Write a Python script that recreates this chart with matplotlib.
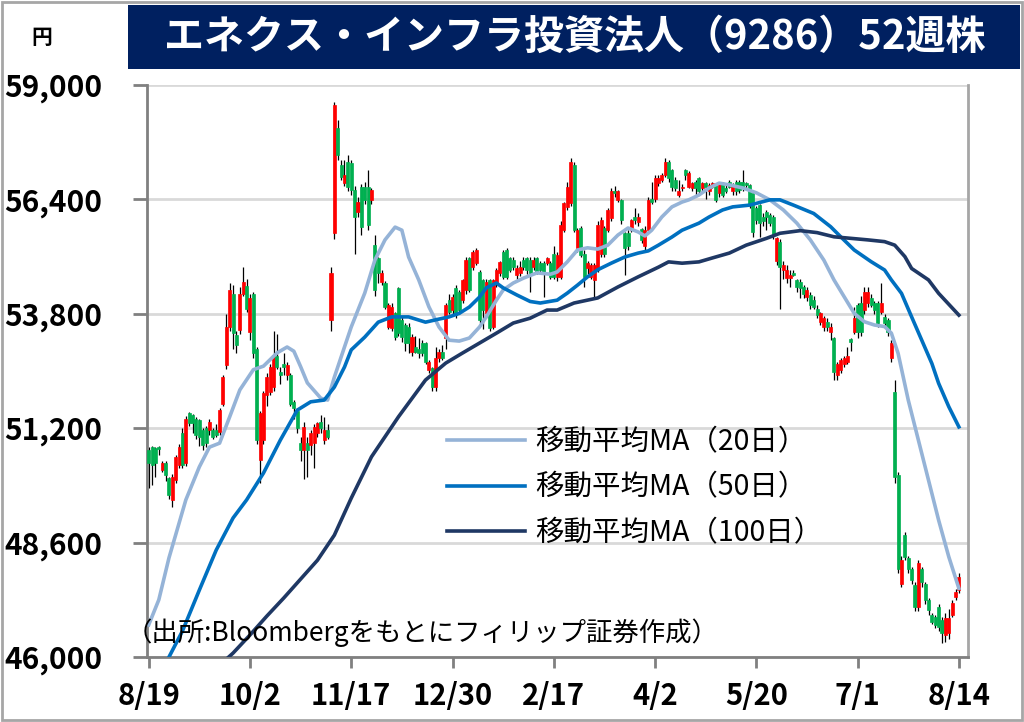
import matplotlib
matplotlib.use("Agg")
import matplotlib.pyplot as plt
from matplotlib.patches import Rectangle
import numpy as np

plt.rcParams['font.family'] = ['Noto Sans CJK JP', 'DejaVu Sans']

# ── text ────────────────────────────────────────────────────────────────
TITLE = "エネクス・インフラ投資法人（9286）52週株"
SOURCE = "（出所:Bloombergをもとにフィリップ証券作成）"
UNIT = "円"

date_labels = ["8/19", "10/2", "11/17", "12/30", "2/17", "4/2", "5/20", "7/1", "8/14"]
date_pos = [0, 30, 60, 90, 120, 150, 180, 210, 240]
price_ticks = [46000, 48600, 51200, 53800, 56400, 59000]

# ── daily candles (yen) ─────────────────────────────────────────────────
opens = [
    50700, 50780, 50740, 50780, 50260, 50400, 50060, 49570, 50020, 50360,
    51080, 50400, 51540, 51500, 51420, 51390, 51160, 51200, 51160, 51160,
    51160, 51120, 51760, 52640, 53510, 54260, 53320, 53430, 54260, 54430,
    53390, 54260, 53010, 50480, 50930, 51950, 52030, 52140, 52830, 52480,
    52670, 52410, 52410, 51800, 51600, 50860, 50700, 50860, 50820, 50860,
    51080, 51350, 50930, 51160, 53660, 55630, 58020, 57180, 56770, 57260,
    57220, 56610, 56120, 56690, 56690, 56690, 56390, 55360, 55060, 54530,
    54490, 53510, 53470, 53810, 54380, 53660, 53550, 53510, 52940, 53050,
    53010, 53130, 53130, 52520, 52560, 52140, 52790, 52940, 53240, 54110,
    53890, 54380, 54300, 54110, 54340, 55060, 54870, 54950, 54760, 54570,
    53810, 54570, 53510, 54490, 54720, 55210, 55250, 55060, 55020, 54680,
    54720, 55020, 55060, 55020, 54870, 55060, 54950, 54950, 54950, 54950,
    55170, 54640, 54640, 55700, 56230, 56310, 57180, 55290, 55740, 55170,
    54830, 54640, 54570, 54800, 55170, 55740, 55700, 55970, 56590, 56390,
    56390, 55630, 55630, 55700, 56010, 55890, 55720, 55330, 55700, 56420,
    56420, 56770, 56840, 56950, 57260, 57070, 56840, 56500, 56650, 57070,
    56690, 56650, 56800, 56880, 56650, 56770, 56580, 56690, 56730, 56540,
    56770, 56650, 56800, 56580, 56800, 56800, 56800, 56770, 56730, 56540,
    56200, 56270, 56000, 56120, 56050, 56010, 54990, 55440, 54800, 54610,
    54610, 54720, 54570, 54530, 54400, 54190, 54230, 54110, 53920, 53620,
    53510, 53620, 53390, 53240, 52410, 52520, 52670, 52710, 53220, 53390,
    54000, 54040, 53890, 54040, 54150, 54040, 54040, 53850, 53730, 53660,
    52790, 52030, 50140, 47670, 48770, 48240, 48010, 47640, 47140, 48000,
    47670, 47290, 46950, 46920, 47140, 46840, 46500, 46540, 46950, 47370,
    47520,
]
highs = [
    50780, 50800, 50780, 50800, 50450, 50450, 50100, 50150, 50600, 50850,
    51200, 51480, 51560, 51520, 51450, 51400, 51200, 51250, 51400, 51200,
    51300, 51650, 52400, 53800, 54500, 54450, 53400, 54400, 54870, 54600,
    54250, 54300, 53050, 51600, 52050, 52450, 52650, 53400, 53350, 52600,
    52900, 52700, 52450, 51850, 51650, 51000, 51350, 51000, 51150, 51300,
    51350, 51500, 51450, 51300, 54870, 58620, 58200, 57300, 57300, 57400,
    57300, 56700, 56450, 56750, 56800, 57070, 56650, 55600, 55100, 54800,
    54550, 54050, 54050, 53850, 54400, 53750, 53600, 53600, 53350, 53300,
    53250, 53200, 53150, 52750, 52600, 53050, 53000, 53100, 54050, 54250,
    54250, 54450, 54350, 54600, 55100, 55100, 55250, 55300, 54800, 54600,
    54600, 54600, 54600, 54850, 55000, 55250, 55300, 55100, 55100, 54900,
    55000, 55100, 55100, 55100, 55100, 55100, 55000, 55000, 55100, 55000,
    55330, 55200, 55900, 56350, 56800, 57340, 57250, 55750, 55800, 55250,
    55000, 54950, 54950, 55900, 56000, 55800, 56200, 56650, 56700, 56620,
    56420, 55650, 55700, 55950, 56200, 56100, 55750, 55800, 56450, 56800,
    56950, 56950, 57000, 57340, 57300, 57100, 56900, 56850, 56750, 57100,
    57050, 56800, 56850, 56900, 56800, 56800, 56780, 56800, 56750, 56800,
    56800, 56750, 56850, 56780, 56850, 56850, 57070, 56800, 56750, 56600,
    56250, 56300, 56100, 56150, 56100, 56050, 55550, 55500, 55000, 54900,
    54800, 54800, 54600, 54600, 54450, 54400, 54300, 54200, 54000, 53850,
    53750, 53700, 53600, 53280, 52700, 52800, 52850, 53050, 53250, 53950,
    54050, 54200, 54400, 54400, 54250, 54100, 54100, 54500, 53800, 53700,
    53200, 52300, 50200, 48300, 48850, 48300, 48050, 47700, 48200, 48050,
    47700, 47350, 47000, 46950, 47200, 46900, 47000, 47100, 47300, 47550,
    47900,
]
lows = [
    49830, 49900, 50100, 50600, 50200, 50000, 49600, 49400, 49950, 50300,
    50300, 50350, 51250, 51100, 50950, 50800, 50700, 50780, 51050, 50950,
    51000, 51050, 51700, 52550, 53400, 53000, 52900, 53350, 54200, 53850,
    53200, 52800, 50850, 49950, 50850, 51700, 51950, 52050, 52550, 52200,
    52400, 52300, 51700, 51400, 51100, 50450, 50050, 50100, 50600, 50300,
    51000, 51100, 50850, 50950, 53400, 55500, 57300, 56850, 56700, 56600,
    56500, 55170, 56000, 55600, 56300, 55700, 56300, 54200, 54500, 54450,
    53900, 53450, 53400, 53200, 53300, 53150, 52950, 52900, 52850, 52900,
    52800, 52850, 52650, 52450, 52050, 52050, 52700, 52750, 53000, 53800,
    53800, 53700, 53800, 54050, 54250, 54300, 54800, 54900, 53600, 53450,
    53700, 53400, 53450, 54400, 54650, 54600, 54600, 54750, 54800, 54600,
    54650, 54800, 54700, 54300, 54800, 54700, 54750, 54190, 54900, 54600,
    54600, 54550, 54600, 55650, 56150, 56250, 55650, 55200, 55100, 54400,
    54700, 54600, 54190, 54750, 55100, 55100, 55650, 55900, 56450, 56350,
    55850, 54680, 55250, 55650, 55850, 55800, 55400, 55250, 55650, 56300,
    56350, 56700, 56800, 56900, 56800, 56600, 56600, 56450, 56600, 56850,
    56650, 56600, 56450, 56500, 56600, 56400, 56500, 56650, 56350, 56450,
    56450, 56550, 56650, 56500, 56500, 56550, 56600, 56650, 56200, 55550,
    55850, 55550, 55800, 55700, 55800, 55500, 54900, 53920, 54600, 54500,
    54400, 54650, 54300, 54150, 54150, 54100, 53900, 53900, 53700, 53550,
    53400, 53400, 53200, 52300, 52300, 52450, 52600, 52650, 52950, 53350,
    53250, 53300, 53800, 53950, 53950, 53800, 53500, 53800, 53500, 53300,
    52700, 49950, 47900, 47600, 48200, 47900, 47650, 47050, 47050, 47600,
    47200, 46950, 46750, 46650, 46600, 46310, 46350, 46400, 46900, 47300,
    47450,
]
closes = [
    50400, 50360, 50400, 50720, 50400, 50140, 49680, 50100, 50550, 50780,
    50360, 51420, 51310, 51310, 51040, 51010, 50820, 50860, 51350, 51010,
    51040, 51610, 52370, 53510, 54340, 53360, 53090, 54260, 54530, 53920,
    54150, 52900, 50930, 51540, 51990, 52370, 52600, 52860, 52600, 52410,
    52600, 52640, 51760, 51650, 51200, 50700, 51230, 50700, 51080, 51230,
    51310, 51200, 51160, 51010, 54720, 58550, 57410, 56920, 56950, 56690,
    56610, 56010, 56350, 55780, 56390, 55820, 56610, 54340, 54720, 54720,
    53960, 54000, 53960, 53280, 53360, 53280, 53130, 53130, 53280, 52940,
    52900, 52900, 52710, 52710, 52140, 52790, 52940, 52790, 54000, 53850,
    54190, 53770, 53890, 54570, 55020, 54340, 55210, 55250, 53660, 53890,
    54530, 53470, 54570, 54800, 54980, 54640, 54640, 54800, 54870, 54830,
    54870, 54870, 54800, 54720, 55020, 54760, 54800, 54720, 55060, 54640,
    54640, 55140, 55820, 56310, 56690, 57260, 55700, 55700, 55140, 54640,
    54950, 54910, 54910, 55820, 55930, 55170, 56160, 56580, 56540, 56580,
    55930, 55290, 55330, 55930, 55930, 56010, 55480, 55700, 56390, 56350,
    56880, 56880, 56950, 57260, 56880, 56690, 56650, 56580, 56690, 56950,
    56990, 56770, 56650, 56580, 56770, 56690, 56730, 56770, 56390, 56770,
    56500, 56600, 56690, 56730, 56580, 56610, 56650, 56730, 56270, 55670,
    55930, 55860, 55900, 56010, 55860, 55590, 55520, 54870, 54910, 54800,
    54680, 54680, 54420, 54380, 54250, 54340, 54000, 53960, 53770, 53810,
    53700, 53510, 53510, 52480, 52670, 52750, 52790, 52830, 53170, 53700,
    53390, 53390, 54300, 54300, 54000, 53890, 53580, 54040, 53580, 53390,
    53130, 50100, 48010, 48200, 48280, 48010, 47750, 47140, 48130, 47700,
    47290, 47070, 46800, 46730, 46690, 46540, 46880, 46880, 47220, 47480,
    47820,
]

# ── moving averages read at points along each line (day index, yen) ─────
ma20_x = [0, 3, 6, 11, 15, 18, 21, 24, 27, 31, 34, 38, 41, 43, 45, 47, 51, 53, 55, 58,
          60, 64, 67, 70, 73, 75, 77, 80, 83, 86, 89, 92, 95, 98, 100, 103, 105, 108, 111, 115,
          119, 121, 124, 127, 130, 133, 136, 139, 142, 145, 147, 149, 152, 155, 158, 160, 163, 166, 169, 172,
          176, 180, 184, 188, 192, 196, 200, 203, 206, 209, 212, 215, 218, 220, 222, 225, 228, 231, 234, 237, 240]
ma20_y = [46730, 47300, 48250, 49570, 50320, 50770, 50860, 51460, 52070, 52530, 52610, 52910, 53045, 52950, 52600, 52230, 51880, 51840, 52360, 53045,
          53500, 54270, 55020, 55480, 55770, 55700, 55090, 54570, 53960, 53500, 53200, 53180, 53250, 53500, 53730, 54110, 54340, 54500, 54610, 54730,
          54700, 54750, 54980, 55250, 55300, 55270, 55360, 55590, 55750, 55660, 55570, 55700, 56000, 56230, 56340, 56390, 56500, 56660, 56770, 56730,
          56660, 56550, 56390, 56160, 55860, 55480, 55020, 54570, 54190, 53810, 53620, 53545, 53510, 53360, 52900, 51840, 50930, 50020, 49110, 48280, 47560]

ma50_x = [5, 10, 15, 20, 25, 29, 34, 39, 44, 48, 52, 55, 58, 60, 64, 68, 72, 77, 82, 86,
          89, 92, 95, 98, 100, 103, 105, 109, 113, 116, 121, 124, 127, 130, 133, 137, 141, 145, 148, 151,
          155, 158, 163, 166, 170, 173, 178, 184, 187, 191, 197, 202, 205, 209, 214, 218, 220, 223, 226, 229,
          232, 234, 237, 240]
ma50_y = [45850, 46590, 47520, 48430, 49160, 49570, 50180, 50930, 51610, 51800, 51840, 52135, 52590, 52980, 53270, 53610, 53730, 53730, 53610, 53680,
          53730, 53810, 53955, 54180, 54390, 54500, 54390, 54230, 54080, 54045, 54110, 54270, 54450, 54640, 54800, 54950, 55090, 55180, 55230, 55360,
          55545, 55700, 55860, 56000, 56160, 56230, 56270, 56390, 56390, 56270, 56080, 55780, 55550, 55250, 54985, 54795, 54570, 54265, 53730, 53200,
          52670, 52220, 51690, 51230]

ma100_x = [23, 25, 30, 35, 40, 45, 50, 55, 60, 66, 74, 82, 88, 93, 98, 103, 108, 113, 118, 121,
           126, 133, 139, 145, 151, 154, 158, 163, 167, 172, 177, 183, 187, 193, 198, 203, 208, 213, 218, 221,
           224, 226, 231, 234, 240]
ma100_y = [45950, 46090, 46500, 46930, 47340, 47770, 48200, 48770, 49610, 50550, 51460, 52295, 52680, 52910, 53135, 53360, 53590, 53700, 53885, 53885,
           54045, 54160, 54410, 54640, 54860, 54980, 54950, 54980, 55070, 55180, 55360, 55515, 55630, 55690, 55645, 55550, 55515, 55480, 55440, 55360,
           55100, 54830, 54570, 54265, 53770]

# ── figure ──────────────────────────────────────────────────────────────
fig = plt.figure(figsize=(10.24, 7.22), dpi=100)
ax = fig.add_axes([147 / 1024, 1 - 657 / 722, 821 / 1024, 572 / 722])

fig.patches.append(Rectangle((0.002, 0.003), 0.996, 0.994, transform=fig.transFigure,
                             fill=False, edgecolor='#A6A6A6', lw=2))
fig.patches.append(Rectangle((128 / 1024, 1 - 69 / 722), 892 / 1024, 64 / 722,
                             transform=fig.transFigure, facecolor='#002060', edgecolor='none'))
fig.text(575 / 1024, 1 - 37 / 722, TITLE, color='white', fontsize=28.8, fontweight='bold',
         ha='center', va='center')
fig.text(42 / 1024, 1 - 38 / 722, UNIT, fontsize=15, fontweight='bold', ha='center', va='center')

# candles: red = up day, green = down day
x = np.arange(len(closes))
o = np.array(opens)
c = np.array(closes)
colors = np.where(c >= o, '#FF0000', '#00B050')
bottoms = np.minimum(o, c)
heights = np.maximum(np.abs(c - o), 35)
ax.vlines(x, lows, highs, color='black', lw=0.9, zorder=2)
ax.bar(x, heights, bottom=bottoms, width=0.9, color=colors, edgecolor=colors,
       linewidth=0.5, zorder=3)

ax.plot(ma20_x, ma20_y, color='#95B3D7', lw=2.6, zorder=4, label='移動平均MA（20日）')
ax.plot(ma50_x, ma50_y, color='#0070C0', lw=2.6, zorder=4, label='移動平均MA（50日）')
ax.plot(ma100_x, ma100_y, color='#1F3864', lw=2.6, zorder=4, label='移動平均MA（100日）')

ax.set_xlim(-0.5, 242.7)
ax.set_ylim(46000, 59000)
ax.set_yticks(price_ticks)
ax.set_yticklabels([f"{v:,}" for v in price_ticks], fontweight='bold')
ax.set_xticks(date_pos)
ax.set_xticklabels(date_labels, fontweight='bold')
ax.tick_params(axis='y', length=10, width=2, color='#808080', pad=22, labelsize=21.5)
ax.tick_params(axis='x', length=8, width=2, color='#808080', pad=9, labelsize=21)

ax.yaxis.grid(True, color='#D9D9D9', lw=2)
ax.set_axisbelow(True)
for side in ['left', 'bottom']:
    ax.spines[side].set_color('#808080')
    ax.spines[side].set_linewidth(2)
ax.spines['right'].set_color('#A6A6A6')
ax.spines['right'].set_linewidth(2)
ax.spines['top'].set_visible(False)

ax.legend(loc='upper left', bbox_to_anchor=(0.365, 0.402), frameon=False, fontsize=20.5,
          handlelength=2.75, handletextpad=0.36, labelspacing=0.55, borderpad=0, borderaxespad=0)

fig.text(126 / 1024, 1 - 633 / 722, SOURCE, fontsize=19, ha='left', va='center')

fig.savefig("out.png", dpi=100)
